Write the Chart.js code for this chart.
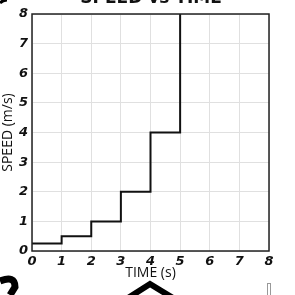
<!doctype html>
<html lang="en">
  <head>
    <meta charset="UTF-8" />
    <title>Speed vs Time</title>
    <script src="https://cdn.jsdelivr.net/npm/chart.js"></script>
    <style>
      html,
      body {
        margin: 0;
        padding: 0;
        background: #fff;
      }
      #wrap {
        width: 295px;
        height: 295px;
        position: relative;
      }
    </style>
  </head>
  <body>
    <div id="wrap"><canvas id="speedChart"></canvas></div>

    <script>
      // step chart: speed doubles every second
      const times = [0, 1, 2, 3, 4, 5];
      const speeds = [0.25, 0.5, 1, 2, 4, 8];
      const xTicks = [0, 1, 2, 3, 4, 5, 6, 7, 8];
      const yTicks = [0, 1, 2, 3, 4, 5, 6, 7, 8];

      const tickFont = {
        family: "DejaVu Sans",
        size: 13,
        weight: "bold",
        style: "italic",
      };

      // frame round the plot + the cropped bits of the page around it
      const extras = {
        id: "extras",
        afterDraw(chart) {
          const { ctx, chartArea: a } = chart;
          ctx.save();
          ctx.strokeStyle = "#222";
          ctx.lineWidth = 1.5;
          ctx.strokeRect(a.left, a.top, a.right - a.left, a.bottom - a.top);

          // title, mostly cut off by the top edge
          ctx.fillStyle = "#111";
          ctx.font = "bold 17px 'DejaVu Sans'";
          ctx.textAlign = "center";
          ctx.textBaseline = "alphabetic";
          ctx.fillText("SPEED vs TIME", 151, 3);

          // decoration scraps
          ctx.strokeStyle = "#000";
          ctx.lineWidth = 7;
          ctx.lineCap = "butt";
          ctx.beginPath();
          ctx.moveTo(0, 281);
          ctx.quadraticCurveTo(15, 275, 15, 287);
          ctx.lineTo(10, 295);
          ctx.stroke();

          ctx.lineWidth = 6;
          ctx.beginPath();
          ctx.moveTo(128, 298);
          ctx.lineTo(150, 284);
          ctx.lineTo(173, 298);
          ctx.stroke();

          ctx.lineWidth = 3;
          ctx.beginPath();
          ctx.moveTo(0, 3);
          ctx.quadraticCurveTo(3, 0, 7, 0);
          ctx.stroke();

          ctx.strokeStyle = "#999";
          ctx.lineWidth = 1;
          ctx.strokeRect(267.5, 283.5, 3, 12);
          ctx.restore();
        },
      };

      new Chart(document.getElementById("speedChart"), {
        type: "line",
        data: {
          datasets: [
            {
              data: times.map((t, i) => ({ x: t, y: speeds[i] })),
              stepped: "before",
              borderColor: "#111",
              borderWidth: 2,
              pointRadius: 0,
              fill: false,
            },
          ],
        },
        options: {
          responsive: true,
          maintainAspectRatio: false,
          animation: false,
          layout: { padding: { top: 14, right: 26, left: 0, bottom: 14 } },
          plugins: {
            legend: { display: false },
            tooltip: { enabled: false },
          },
          scales: {
            x: {
              type: "linear",
              min: 0,
              max: 8,
              afterBuildTicks: (s) => {
                s.ticks = xTicks.map((v) => ({ value: v }));
              },
              afterFit: (s) => {
                s.height = 30;
              },
              grid: { color: "#e0e0e0", lineWidth: 1, drawTicks: false },
              border: { display: false },
              ticks: { color: "#111", font: tickFont, padding: 3 },
              title: {
                display: true,
                text: "TIME (s)",
                color: "#111",
                font: { family: "Open Sans", size: 14 },
                padding: { top: 0, bottom: 0 },
              },
            },
            y: {
              min: 0,
              max: 8,
              afterBuildTicks: (s) => {
                s.ticks = yTicks.map((v) => ({ value: v }));
              },
              afterFit: (s) => {
                s.width = 32;
              },
              grid: { color: "#e0e0e0", lineWidth: 1, drawTicks: false },
              border: { display: false },
              ticks: { color: "#111", font: tickFont, padding: 4 },
              title: {
                display: true,
                text: "SPEED (m/s)",
                color: "#111",
                font: { family: "Open Sans", size: 14 },
                padding: { top: 0, bottom: 0 },
              },
            },
          },
        },
        plugins: [extras],
      });
    </script>
  </body>
</html>
